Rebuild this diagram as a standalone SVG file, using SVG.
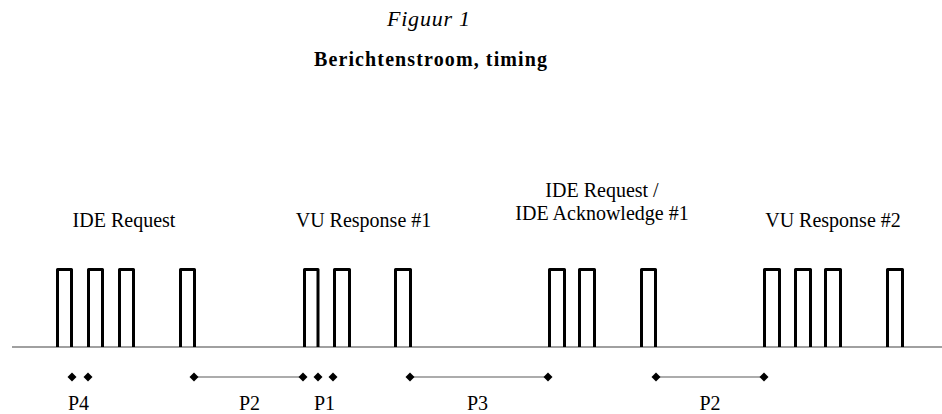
<svg xmlns="http://www.w3.org/2000/svg" width="942" height="414" viewBox="0 0 942 414">
  <style>
    text { font-family: "Liberation Serif", "Times New Roman", serif; fill: #000; }
    .lbl { font-size: 20px; text-anchor: middle; }
    .pulse { fill: none; stroke: #000; stroke-width: 3; stroke-linejoin: round; }
    .axis { stroke: #808080; stroke-width: 1.3; }
    .span { stroke: #909090; stroke-width: 1.3; }
    .dia { fill: #000; }
  </style>
  <defs>
    <path id="d" d="M-4.5 0 L0 -4.5 L4.5 0 L0 4.5 Z"/>
  </defs>
  <rect width="942" height="414" fill="#fff"/>

  <g id="title">
    <text x="387" y="26" font-size="22" font-style="italic" textLength="83" lengthAdjust="spacing">Figuur 1</text>
    <text x="314" y="66" font-size="20" font-weight="bold" textLength="233" lengthAdjust="spacing">Berichtenstroom, timing</text>
  </g>

  <g id="axis">
    <line class="axis" x1="12" y1="347" x2="942" y2="347"/>
  </g>

  <g id="pulses">
    <path class="pulse" d="M57.5 347 V269.5 H71.5 V347"/>
    <path class="pulse" d="M88.5 347 V269.5 H102.5 V347"/>
    <path class="pulse" d="M119.5 347 V269.5 H133.5 V347"/>
    <path class="pulse" d="M180.5 347 V269.5 H194.5 V347"/>
    <path class="pulse" d="M304.5 347 V269.5 H318 V347"/>
    <path class="pulse" d="M334.5 347 V269.5 H349.5 V347"/>
    <path class="pulse" d="M395.5 347 V269.5 H410.5 V347"/>
    <path class="pulse" d="M549.5 347 V269.5 H564.5 V347"/>
    <path class="pulse" d="M579.5 347 V269.5 H594.5 V347"/>
    <path class="pulse" d="M641.5 347 V269.5 H655.5 V347"/>
    <path class="pulse" d="M764.5 347 V269.5 H779.5 V347"/>
    <path class="pulse" d="M795.5 347 V269.5 H810.5 V347"/>
    <path class="pulse" d="M825.5 347 V269.5 H840.5 V347"/>
    <path class="pulse" d="M887.5 347 V269.5 H902.5 V347"/>
  </g>

  <g id="msg-labels">
    <g id="ide-request"><text class="lbl" x="124" y="227">IDE Request</text></g>
    <g id="vu-response-1"><text class="lbl" x="363.5" y="227">VU Response #1</text></g>
    <g id="ide-ack-1">
      <text class="lbl" x="602" y="197">IDE Request /</text>
      <text class="lbl" x="602" y="220">IDE Acknowledge #1</text>
    </g>
    <g id="vu-response-2"><text class="lbl" x="833" y="227">VU Response #2</text></g>
  </g>

  <g id="connectors">
    <line class="span" x1="194" y1="377" x2="303" y2="377"/>
    <line class="span" x1="410" y1="377" x2="548" y2="377"/>
    <line class="span" x1="656" y1="377" x2="764" y2="377"/>
  </g>

  <g id="markers">
    <use href="#d" class="dia" x="72" y="377"/>
    <use href="#d" class="dia" x="88" y="377"/>
    <use href="#d" class="dia" x="194" y="377"/>
    <use href="#d" class="dia" x="303" y="377"/>
    <use href="#d" class="dia" x="318" y="377"/>
    <use href="#d" class="dia" x="333" y="377"/>
    <use href="#d" class="dia" x="410" y="377"/>
    <use href="#d" class="dia" x="548" y="377"/>
    <use href="#d" class="dia" x="656" y="377"/>
    <use href="#d" class="dia" x="764" y="377"/>
  </g>

  <g id="period-labels">
    <g id="p4"><text class="lbl" x="78.5" y="409.5">P4</text></g>
    <g id="p2a"><text class="lbl" x="249.5" y="409.5">P2</text></g>
    <g id="p1"><text class="lbl" x="324.5" y="409.5">P1</text></g>
    <g id="p3"><text class="lbl" x="477.5" y="409.5">P3</text></g>
    <g id="p2b"><text class="lbl" x="710" y="409.5">P2</text></g>
  </g>
</svg>
